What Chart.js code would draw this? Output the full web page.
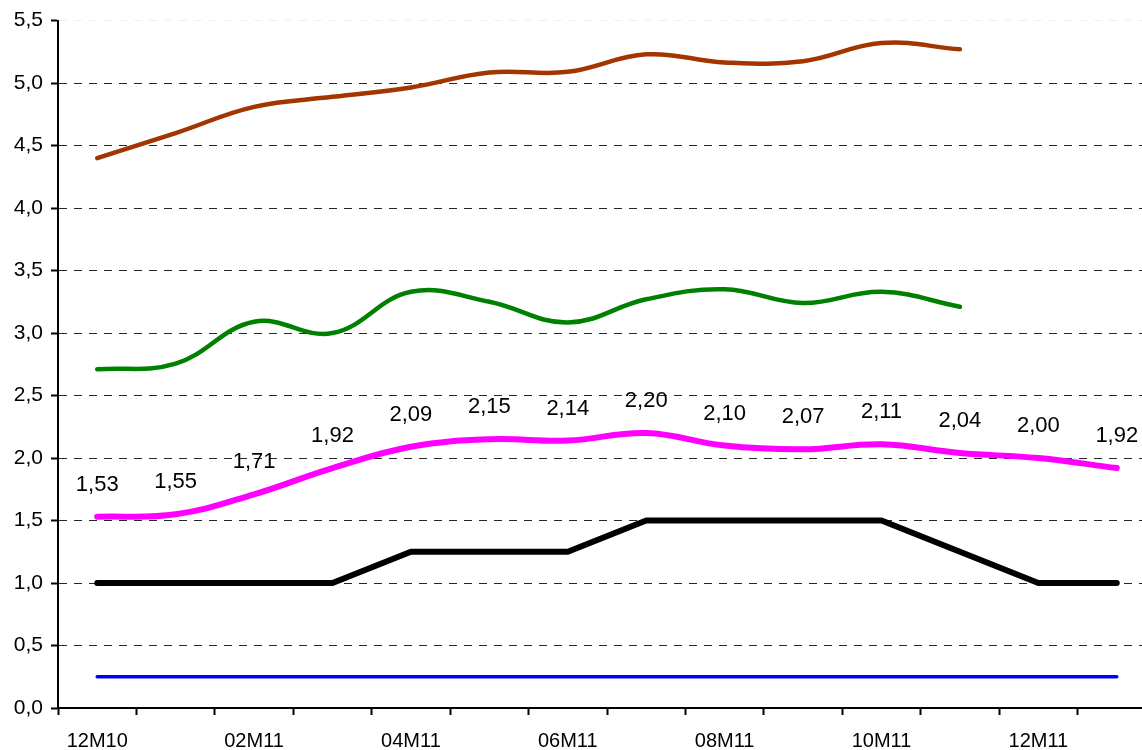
<!DOCTYPE html>
<html>
<head>
<meta charset="utf-8">
<script src="https://cdn.jsdelivr.net/npm/chart.js@4/dist/chart.umd.min.js"></script>
<style>
    body { margin: 0; background: #fff; overflow: hidden; }
    #wrap { width: 1142px; height: 750px; overflow: hidden; }
</style>
</head>
<body>
<div id="wrap"><canvas id="rateChart" width="1160" height="768"></canvas></div>
<script>
const months = ['12M10', '01M11', '02M11', '03M11', '04M11', '05M11', '06M11',
    '07M11', '08M11', '09M11', '10M11', '11M11', '12M11', '01M12'];
const yTicks = [0, 0.5, 1, 1.5, 2, 2.5, 3, 3.5, 4, 4.5, 5, 5.5];

const brownSeries = [4.40, 4.60, 4.81, 4.89, 4.965, 5.085, 5.09, 5.23, 5.165, 5.175, 5.32, 5.27, null, null];
const greenSeries = [2.71, 2.755, 3.09, 3.00, 3.33, 3.25, 3.085, 3.27, 3.35, 3.24, 3.33, 3.21, null, null];
const magentaSeries = [1.53, 1.55, 1.71, 1.92, 2.09, 2.15, 2.14, 2.20, 2.10, 2.07, 2.11, 2.04, 2.00, 1.92];
const blackSeries = [1, 1, 1, 1, 1.25, 1.25, 1.25, 1.5, 1.5, 1.5, 1.5, 1.25, 1, 1];
const blueSeries = [0.25, 0.25, 0.25, 0.25, 0.25, 0.25, 0.25, 0.25, 0.25, 0.25, 0.25, 0.25, 0.25, 0.25];

const fontFamily = '"Liberation Sans", Arial, sans-serif';

function commaNum(v, digits) {
    return Number(v).toFixed(digits).replace('.', ',');
}

// value labels above the magenta line
const valueLabels = {
    id: 'valueLabels',
    afterDatasetsDraw(chart) {
        const ctx = chart.ctx;
        const meta = chart.getDatasetMeta(2);
        ctx.save();
        ctx.font = '22px ' + fontFamily;
        ctx.fillStyle = '#000';
        ctx.textAlign = 'center';
        ctx.textBaseline = 'middle';
        meta.data.forEach(function (pt, i) {
            ctx.fillText(commaNum(magentaSeries[i], 2), pt.x, pt.y - 32);
        });
        ctx.restore();
    }
};

function lineSet(data, color, width, tension) {
    return {
        data: data,
        borderColor: color,
        backgroundColor: color,
        borderWidth: width,
        tension: tension,
        pointRadius: 0,
        fill: false,
        borderCapStyle: 'round',
        borderJoinStyle: 'round'
    };
}

const ctx = document.getElementById('rateChart').getContext('2d');
new Chart(ctx, {
    type: 'line',
    data: {
        labels: months,
        datasets: [
            lineSet(brownSeries, '#a33500', 4.5, 0.4),
            lineSet(greenSeries, '#008000', 4.5, 0.4),
            lineSet(magentaSeries, '#ff00ff', 6, 0.4),
            lineSet(blackSeries, '#000000', 6, 0),
            lineSet(blueSeries, '#0000ff', 3.5, 0)
        ]
    },
    options: {
        responsive: false,
        animation: false,
        layout: { padding: { top: 20, right: 4, left: 0, bottom: 0 } },
        plugins: {
            legend: { display: false },
            tooltip: { enabled: false }
        },
        scales: {
            x: {
                offset: true,
                border: { display: true, color: '#000', width: 2 },
                grid: {
                    offset: true,
                    drawOnChartArea: false,
                    drawTicks: true,
                    tickLength: 7,
                    tickColor: '#000',
                    tickWidth: 2
                },
                ticks: {
                    autoSkip: false,
                    maxRotation: 0,
                    padding: 14,
                    color: '#000',
                    font: { family: fontFamily, size: 20 },
                    callback: function (val, i) { return i % 2 === 0 ? months[i] : ''; }
                },
                afterFit: function (scale) { scale.height = 60; }
            },
            y: {
                min: 0,
                max: 5.5,
                afterBuildTicks: function (scale) {
                    scale.ticks = yTicks.map(v => ({ value: v }));
                },
                // in v4 border.dash is what dashes the grid lines
                border: { display: true, color: '#000', width: 2, dash: [8, 7] },
                grid: {
                    color: c => (c.tick && c.tick.value === 5.5) ? 'rgba(0,0,0,0.06)' : 'rgba(0,0,0,0.85)',
                    lineWidth: 1,
                    drawTicks: true,
                    tickLength: 7,
                    tickColor: '#000',
                    tickWidth: 2,
                    tickBorderDash: []
                },
                ticks: {
                    padding: 8,
                    color: '#000',
                    font: { family: fontFamily, size: 21 },
                    callback: v => commaNum(v, 1)
                },
                afterFit: function (scale) { scale.width = 58; }
            }
        }
    },
    plugins: [valueLabels]
});
</script>
</body>
</html>
